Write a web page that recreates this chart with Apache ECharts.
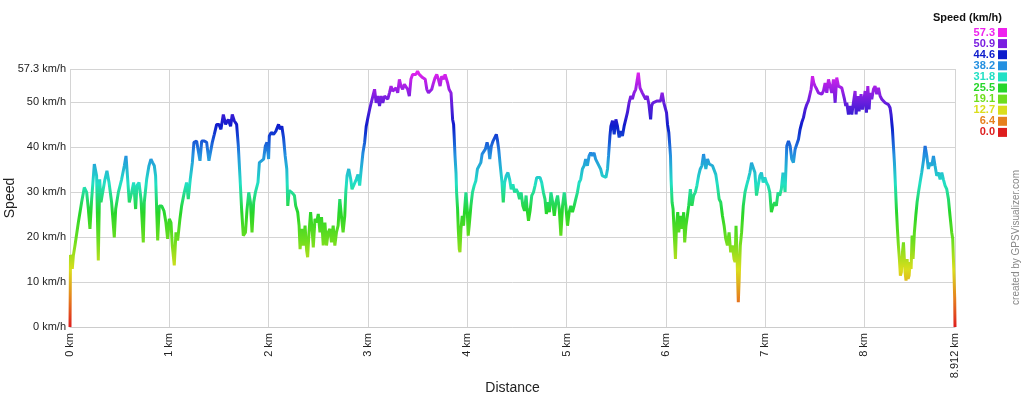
<!DOCTYPE html>
<html lang="en">
<head>
    <meta charset="UTF-8">
    <title>speed-profile</title>
    <script type="text/javascript" src="https://cdn.jsdelivr.net/npm/echarts@6/dist/echarts.min.js"></script>
    <style>
        html, body { margin: 0; padding: 0; background: #fff; }
    </style>
</head>
<body>
<div id="speedChart" style="width: 1024px;height: 398px;"></div>
<script type="text/javascript">
    // distance along the track (km) and speed at that point (km/h)
    var distanceKm = [
        0, 0.005, 0.017, 0.023, 0.034, 0.050, 0.084, 0.117, 0.144, 0.168, 0.185, 0.201, 0.218, 0.245, 0.268, 0.285, 0.299, 0.312, 0.329, 0.352,
        0.372, 0.393, 0.419, 0.446, 0.460, 0.487, 0.520, 0.547, 0.564, 0.581, 0.597, 0.621, 0.641, 0.661, 0.674, 0.695, 0.715, 0.738, 0.748, 0.772,
        0.795, 0.815, 0.832, 0.849, 0.862, 0.883, 0.899, 0.923, 0.946, 0.966, 0.983, 1.000, 1.017, 1.030, 1.050, 1.067, 1.084, 1.107, 1.124, 1.151,
        1.174, 1.191, 1.211, 1.232, 1.248, 1.275, 1.292, 1.309, 1.326, 1.352, 1.376, 1.399, 1.419, 1.433, 1.453, 1.477, 1.500, 1.520, 1.544, 1.567,
        1.594, 1.617, 1.634, 1.654, 1.678, 1.695, 1.711, 1.728, 1.745,
        1.767, 1.783, 1.800, 1.817, 1.833, 1.850, 1.867, 1.893, 1.907, 1.927, 1.950, 1.967, 1.983, 2.000, 2.007, 2.027, 2.050, 2.073, 2.100, 2.117,
        2.133, 2.150, 2.167, 2.183, 2.193, 2.207, 2.233, 2.260, 2.273, 2.293, 2.307, 2.317, 2.333, 2.350, 2.367, 2.383, 2.393, 2.407, 2.423, 2.440,
        2.450, 2.467, 2.483, 2.500, 2.517, 2.533, 2.550, 2.567, 2.583, 2.600, 2.617, 2.633, 2.650, 2.667, 2.683, 2.700, 2.717, 2.733, 2.750, 2.767,
        2.777, 2.790, 2.807, 2.827, 2.840, 2.860, 2.883, 2.900, 2.917, 2.933, 2.950, 2.967, 2.983, 3.000, 3.017, 3.033, 3.050, 3.067, 3.083, 3.100,
        3.117, 3.133, 3.150, 3.167, 3.183, 3.200, 3.217, 3.233, 3.250, 3.267, 3.283, 3.300, 3.317, 3.333, 3.350, 3.367, 3.383, 3.400, 3.417, 3.433,
        3.450, 3.467, 3.483, 3.500, 3.517, 3.533, 3.550,
        3.577, 3.593, 3.610, 3.627, 3.643, 3.660, 3.677, 3.693, 3.710, 3.727, 3.743, 3.760, 3.777, 3.793, 3.803, 3.817, 3.827, 3.837, 3.843, 3.853,
        3.863, 3.870, 3.877, 3.887, 3.893, 3.903, 3.910, 3.920, 3.927, 3.937, 3.950, 3.963, 3.977, 3.987, 4.000, 4.010, 4.020, 4.037, 4.053, 4.070,
        4.087, 4.103, 4.120, 4.137, 4.150, 4.170, 4.183, 4.200, 4.217, 4.227, 4.243, 4.260, 4.277, 4.293, 4.303, 4.317, 4.333, 4.350, 4.363, 4.377,
        4.393, 4.410, 4.427, 4.443, 4.460, 4.477, 4.493, 4.510, 4.527, 4.543, 4.560, 4.577, 4.593, 4.603, 4.617, 4.633, 4.650, 4.667, 4.683, 4.700,
        4.717, 4.733, 4.750, 4.767, 4.783, 4.797, 4.810, 4.827, 4.843, 4.860, 4.877, 4.893, 4.910, 4.927, 4.943, 4.960, 4.977, 4.993, 5.010, 5.027,
        5.043, 5.060, 5.077, 5.093, 5.110, 5.127, 5.143, 5.160, 5.177, 5.193, 5.210, 5.227, 5.243, 5.260, 5.277, 5.293, 5.310, 5.327, 5.343, 5.360,
        5.397, 5.413, 5.423, 5.437, 5.447, 5.463, 5.480, 5.497, 5.513, 5.530, 5.547, 5.563, 5.580, 5.597, 5.613, 5.630, 5.647, 5.663, 5.680, 5.697,
        5.713, 5.723, 5.730, 5.740, 5.753, 5.763, 5.780, 5.797, 5.813, 5.830, 5.847, 5.857, 5.870, 5.890, 5.913, 5.930, 5.947, 5.963, 5.980, 5.997,
        6.007, 6.017, 6.030, 6.040, 6.047, 6.053, 6.063, 6.073, 6.087, 6.097, 6.107, 6.120, 6.130, 6.147, 6.163, 6.180, 6.190, 6.203, 6.217, 6.230,
        6.247, 6.263, 6.280, 6.297, 6.313, 6.330, 6.347, 6.363, 6.380, 6.390, 6.403, 6.420, 6.437, 6.453, 6.470, 6.487, 6.503, 6.520, 6.537, 6.553,
        6.570, 6.587, 6.603, 6.620, 6.637, 6.653, 6.670, 6.687, 6.697, 6.707, 6.717, 6.723, 6.730, 6.740, 6.750, 6.763, 6.780, 6.797, 6.813, 6.830,
        6.847, 6.863, 6.880, 6.897, 6.913, 6.930, 6.947, 6.963, 6.980, 6.997, 7.013, 7.030, 7.047, 7.063, 7.080, 7.097, 7.113, 7.130, 7.147, 7.163,
        7.180,
        7.201, 7.218, 7.235, 7.252, 7.268, 7.285, 7.302, 7.319, 7.336, 7.352, 7.369, 7.386, 7.403, 7.419, 7.436, 7.453, 7.463, 7.477, 7.490, 7.503,
        7.520, 7.537, 7.554, 7.570, 7.587, 7.604, 7.621, 7.638, 7.654, 7.671, 7.688, 7.705, 7.721, 7.738, 7.755, 7.772, 7.789, 7.799, 7.812, 7.822,
        7.839, 7.856, 7.873, 7.889, 7.906, 7.916, 7.933, 7.946, 7.966, 7.980, 7.993, 8.007, 8.020, 8.034, 8.047, 8.057, 8.074, 8.091, 8.107, 8.124,
        8.141, 8.158, 8.175, 8.191, 8.208, 8.225, 8.242, 8.258, 8.268, 8.282, 8.292, 8.302, 8.312, 8.322, 8.332, 8.342, 8.352, 8.362, 8.372, 8.383,
        8.393, 8.403, 8.409, 8.419, 8.430, 8.440, 8.450, 8.460, 8.470, 8.480, 8.490, 8.503, 8.517, 8.530, 8.544, 8.560, 8.577, 8.594, 8.611, 8.628,
        8.644, 8.661, 8.678, 8.695, 8.711, 8.728, 8.745, 8.762, 8.779, 8.795, 8.812, 8.829, 8.846, 8.862, 8.879, 8.889, 8.896, 8.903, 8.909, 8.912
    ];
    var speedKmh = [
        0, 16.0, 15.1, 12.9, 15.9, 18.1, 23.2, 27.7, 31.0, 29.9, 26.2, 21.8, 28.4, 36.2, 33.6, 14.8, 32.8, 27.7, 29.9, 32.8,
        34.7, 32.1, 27.7, 19.9, 26.2, 29.9, 32.8, 35.8, 38.0, 32.8, 27.7, 29.9, 32.1, 26.2, 31.4, 32.1, 28.4, 18.8, 27.7, 32.8,
        35.8, 37.3, 36.5, 35.8, 33.6, 19.2, 26.9, 26.9, 25.8, 23.2, 19.6, 24.0, 23.2, 18.1, 13.7, 21.0, 19.2, 24.0, 26.9, 29.9,
        32.1, 28.4, 32.8, 36.5, 41.0, 41.3, 41.3, 36.9, 41.3, 41.3, 41.0, 36.9, 37.3, 41.0, 42.8, 45.0, 45.0, 43.9, 47.2, 45.0,
        46.1, 44.6, 47.2, 45.8, 45.0, 40.2, 33.6, 26.2, 20.3,
        21.0, 26.2, 29.9, 27.7, 21.0, 27.7, 29.9, 32.1, 36.5, 36.9, 37.3, 40.2, 41.0, 37.3, 42.4, 43.2, 42.8, 43.5, 45.0, 43.9,
        44.6, 42.1, 38.0, 35.1, 26.9, 30.3, 29.9, 29.2, 26.9, 25.5, 22.5, 17.3, 21.8, 18.1, 22.5, 17.0, 15.5, 21.0, 25.5, 21.0,
        17.7, 24.0, 23.2, 25.1, 21.0, 24.4, 18.1, 23.2, 18.1, 21.0, 21.8, 18.8, 22.5, 18.1, 21.0, 22.5, 28.4, 24.7, 21.0, 24.7,
        29.9, 33.6, 35.1, 32.8, 30.6, 31.0, 32.8, 33.9, 31.4, 35.1, 38.7, 41.0, 44.6, 46.5, 48.3, 49.8, 51.3, 52.8, 49.8, 51.3,
        49.1, 51.3, 49.8, 51.3, 50.9, 50.6, 52.0, 53.5, 52.4, 52.0, 53.1, 52.0, 55.0, 53.5, 52.8, 53.9, 54.2, 52.8, 51.3, 55.0,
        56.1, 56.5, 56.1, 56.8, 56.1, 56.5, 55.4,
        55.0, 52.8, 52.0, 52.0, 52.8, 54.2, 55.4, 56.1, 55.0, 53.5, 55.7, 55.0, 56.1, 56.1, 54.2, 52.8, 52.4, 52.0, 49.8, 46.1,
        45.0, 41.7, 38.0, 34.3, 29.9, 26.2, 21.8, 17.3, 16.6, 21.8, 24.7, 22.5, 27.0, 29.9, 26.2, 20.3, 22.5, 26.9, 29.9, 31.4,
        32.5, 35.1, 35.4, 36.5, 38.4, 38.0, 39.5, 41.0, 39.5, 37.3, 40.2, 41.3, 41.7, 42.8, 41.7, 39.5, 35.8, 32.1, 27.7, 32.1,
        33.6, 34.3, 32.8, 30.6, 31.7, 29.9, 30.6, 29.9, 28.4, 29.9, 26.9, 25.8, 29.2, 26.2, 23.6, 25.8, 29.2, 29.9, 31.4, 33.2,
        33.6, 33.2, 32.1, 29.9, 28.4, 25.1, 27.7, 25.5, 29.9, 27.7, 24.7, 27.7, 29.2, 26.2, 20.3, 26.9, 29.9, 26.9, 22.5, 25.5,
        26.9, 25.5, 26.9, 28.4, 29.9, 32.1, 32.8, 35.1, 35.8, 37.3, 35.8, 38.0, 38.7, 38.0, 38.7, 37.3, 37.3, 35.8, 35.1, 33.6,
        33.2, 35.1, 38.0, 42.4, 44.6, 45.8, 42.8, 46.1, 44.6, 42.1, 43.5, 42.4, 44.6, 45.0, 47.6, 49.8, 51.3, 50.6, 52.0, 52.8,
        55.0, 56.5, 55.0, 53.1, 52.8, 52.0, 51.7, 50.6, 51.3, 49.4, 46.1, 49.1, 49.8, 49.8, 50.2, 49.8, 50.2, 52.0, 49.8, 49.4,
        47.6, 45.0, 43.2, 40.2, 38.0, 32.8, 27.7, 26.2, 19.6, 15.1, 22.5, 25.5, 21.0, 24.7, 21.8, 25.5, 18.8, 22.5, 24.7, 26.9,
        30.6, 26.9, 29.2, 29.9, 31.4, 33.6, 35.1, 35.8, 38.4, 38.0, 35.1, 37.3, 36.2, 36.5, 35.8, 35.4, 33.9, 31.4, 28.4, 27.7,
        24.7, 22.5, 19.6, 18.1, 21.0, 16.6, 18.1, 15.1, 14.4, 22.5, 15.9, 10.7, 5.5, 11.4, 18.1, 21.0, 26.9, 29.9, 31.4, 32.8,
        34.3, 36.5, 36.9, 34.3, 29.2, 31.4, 33.6, 34.3, 32.1, 33.2, 32.1, 31.4, 29.9, 25.5, 26.9, 27.7, 26.9, 29.9, 29.2, 30.6,
        34.3,
        30.0, 40.2, 41.3, 40.2, 37.3, 36.5, 39.5, 39.9, 41.7, 43.9, 45.4, 46.5, 48.3, 49.4, 50.2, 50.6, 52.8, 55.7, 54.2, 53.5,
        52.8, 52.0, 52.0, 51.7, 52.4, 54.2, 52.0, 55.0, 55.4, 52.0, 55.0, 49.8, 55.4, 53.5, 53.1, 53.1, 52.8, 50.6, 49.1, 49.8,
        47.2, 49.1, 47.2, 49.8, 52.4, 47.2, 51.3, 47.9, 51.7, 48.3, 50.2, 52.4, 47.6, 53.5, 48.3, 52.0, 50.6, 52.8, 53.5, 51.7,
        53.1, 51.3, 50.6, 50.9, 49.8, 50.2, 49.4, 48.7, 47.2, 43.9, 40.2, 36.5, 31.4, 26.2, 21.8, 18.1, 15.1, 11.4, 12.2, 16.6,
        18.8, 19.2, 12.2, 10.3, 15.1, 10.7, 11.4, 14.4, 12.9, 20.3, 15.1, 21.0, 24.7, 27.7, 29.9, 32.1, 34.3, 36.9, 40.2, 38.0,
        35.1, 36.5, 35.8, 38.0, 35.8, 33.6, 34.3, 32.8, 34.3, 32.8, 31.4, 30.6, 28.4, 24.7, 21.0, 19.6, 15.1, 10.7, 6.3, 0
    ];

    // colour key on the right
    var legendTitle = 'Speed (km/h)';
    var legendValues = ['57.3', '50.9', '44.6', '38.2', '31.8', '25.5', '19.1', '12.7', '6.4', '0.0'];
    var legendColors = ['#ee22ee', '#7a1ee0', '#0c1ccc', '#2490e0', '#22e0c4', '#26d62a', '#6ede1e', '#dade1c', '#e6801e', '#de1e1e'];

    var speedMax = 57.3;
    var distanceMax = 8.912;

    var chart = echarts.init(document.getElementById('speedChart'));

    var points = [];
    for (var i = 0; i < distanceKm.length; i++) {
        points.push([distanceKm[i], speedKmh[i]]);
    }

    var graphics = [];
    graphics.push({
        type: 'text', right: 22, top: 12,
        style: {text: legendTitle, font: 'bold 11px "Liberation Sans", Arial, sans-serif', fill: '#111'}
    });
    for (var k = 0; k < legendValues.length; k++) {
        graphics.push({
            type: 'text', right: 29, top: 27 + k * 11.1,
            style: {text: legendValues[k], font: 'bold 11px "Liberation Sans", Arial, sans-serif', fill: legendColors[k]}
        });
        graphics.push({
            type: 'rect', left: 998, top: 28 + k * 11.1,
            shape: {width: 9, height: 9},
            style: {fill: legendColors[k]}
        });
    }
    graphics.push({
        type: 'text', left: 1011, top: 170, rotation: Math.PI / 2,
        style: {text: 'created by GPSVisualizer.com', font: '10px "Liberation Sans", Arial, sans-serif', fill: '#888'}
    });

    var option = {
        backgroundColor: '#fff',
        animation: false,
        grid: {left: 70, right: 69, top: 69, bottom: 71, containLabel: false, outerBoundsMode: 'none'},
        visualMap: {
            show: false,
            type: 'continuous',
            dimension: 1,
            min: 0,
            max: speedMax,
            inRange: {color: legendColors.slice().reverse()}
        },
        xAxis: {
            type: 'value',
            min: 0,
            max: distanceMax,
            interval: 1,
            name: 'Distance',
            nameLocation: 'middle',
            nameGap: 54,
            nameMoveOverlap: false,
            nameTextStyle: {fontSize: 14, color: '#222', fontFamily: 'Liberation Sans'},
            axisLine: {show: true, lineStyle: {color: '#ccc'}},
            axisTick: {show: false},
            splitLine: {show: true, lineStyle: {color: '#d4d4d4'}},
            axisLabel: {
                rotate: 90,
                fontSize: 11,
                color: '#222',
                fontFamily: 'Liberation Sans',
                margin: 6,
                showMaxLabel: true,
                formatter: function (v) { return v + ' km'; }
            }
        },
        yAxis: {
            type: 'value',
            min: 0,
            max: speedMax,
            interval: 10,
            name: 'Speed',
            nameLocation: 'middle',
            nameGap: 53,
            nameMoveOverlap: false,
            nameTextStyle: {fontSize: 14, color: '#222', fontFamily: 'Liberation Sans'},
            axisLine: {show: false},
            axisTick: {show: false},
            splitLine: {show: true, lineStyle: {color: '#d4d4d4'}},
            axisLabel: {
                fontSize: 11,
                color: '#222',
                fontFamily: 'Liberation Sans',
                margin: 4,
                showMaxLabel: true,
                formatter: function (v) { return v + ' km/h'; }
            }
        },
        graphic: graphics,
        series: [{
            type: 'line',
            data: points,
            symbol: 'none',
            silent: true,
            lineStyle: {width: 3}
        }]
    };
    chart.setOption(option);
</script>
</body>
</html>
